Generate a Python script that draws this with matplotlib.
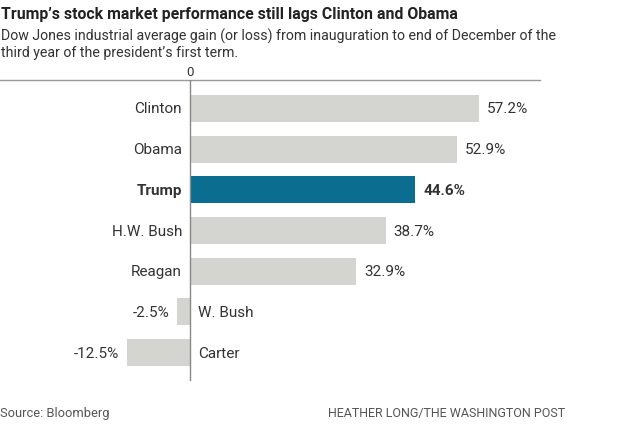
import matplotlib.pyplot as plt

# --
# data

presidents = ['Clinton', 'Obama', 'Trump', 'H.W. Bush', 'Reagan', 'W. Bush', 'Carter']
gains = [57.2, 52.9, 44.6, 38.7, 32.9, -2.5, -12.5]
highlight = 'Trump'

GRAY = '#d4d4d0'
BLUE = '#0b6e91'
TEXT = '#333333'
FONT = ['Roboto', 'DejaVu Sans']

plt.rcParams['font.family'] = FONT

W, H = 624, 427
fig = plt.figure(figsize=(W / 100, H / 100), dpi=100)

# axes placed in pixel terms: zero line at x=190, top rule at y=81, bottom at y=382
ax = fig.add_axes([0, 1 - 382 / H, 540 / W, (382 - 81) / H])
px_per_unit = 289 / 57.2
ax.set_xlim(-190 / px_per_unit, 350 / px_per_unit)
ax.set_ylim(len(presidents) - 0.3, -0.7)

ys = list(range(len(presidents)))
colors = [BLUE if p == highlight else GRAY for p in presidents]
ax.barh(ys, gains, height=0.66, color=colors, zorder=2)

off = 8 / px_per_unit
for y, p, g in zip(ys, presidents, gains):
    w = 'bold' if p == highlight else 'normal'
    if g >= 0:
        ax.text(-off, y, p, ha='right', va='center', fontsize=11, color=TEXT, weight=w)
        ax.text(g + off, y, f'{g:.1f}%', ha='left', va='center', fontsize=11, color=TEXT, weight=w)
    else:
        ax.text(off, y, p, ha='left', va='center', fontsize=11, color=TEXT, weight=w)
        ax.text(g - off, y, f'{g:.1f}%', ha='right', va='center', fontsize=11, color=TEXT, weight=w)

ax.axvline(0, color='#888888', lw=1, zorder=3)
for s in ['right', 'bottom', 'left']:
    ax.spines[s].set_visible(False)
ax.spines['top'].set_color('#999999')
ax.spines['top'].set_linewidth(1)
ax.set_xticks([])
ax.set_yticks([])
ax.patch.set_alpha(0)

# zero label above the top rule
fig.text(190 / W, 1 - 72 / H, '0', ha='center', va='center', fontsize=9.5, color=TEXT)

# --
# titles and notes

fig.text(1 / W, 1 - 14 / H, 'Trump\u2019s stock market performance still lags Clinton and Obama',
         ha='left', va='center', fontsize=11.4, weight='bold', color='#222222')
fig.text(1 / W, 1 - 36 / H, 'Dow Jones industrial average gain (or loss) from inauguration to end of December of the',
         ha='left', va='center', fontsize=10.2, color=TEXT)
fig.text(1 / W, 1 - 53 / H, 'third year of the president\u2019s first term.',
         ha='left', va='center', fontsize=10.2, color=TEXT)
fig.text(0, 1 - 414 / H, 'Source: Bloomberg', ha='left', va='center', fontsize=9.3, color='#555555')
fig.text(565 / W, 1 - 414 / H, 'HEATHER LONG/THE WASHINGTON POST', ha='right', va='center',
         fontsize=9.0, color='#555555')

plt.savefig('out.png', dpi=100)
